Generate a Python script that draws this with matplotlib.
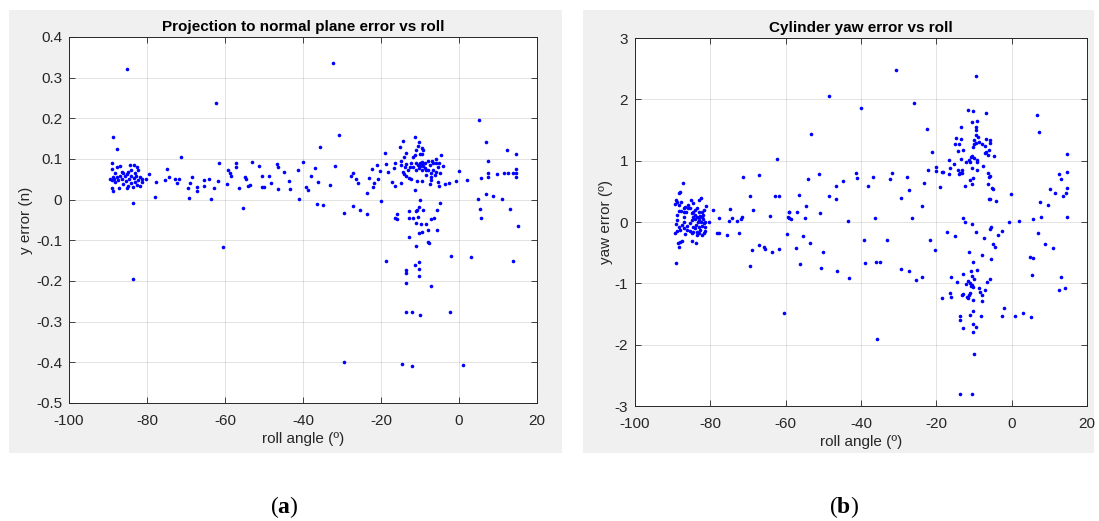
import matplotlib
matplotlib.use("Agg")
import matplotlib.pyplot as plt
from matplotlib.patches import Rectangle

plt.rcParams['font.family'] = ['Liberation Sans', 'DejaVu Sans']
plt.rcParams['axes.unicode_minus'] = False
plt.rcParams['mathtext.fontset'] = 'custom'
plt.rcParams['mathtext.rm'] = 'Liberation Serif'
plt.rcParams['mathtext.bf'] = 'Liberation Serif:bold'

# (a) projection to normal plane error vs roll
roll_a = [
    -89.1, -87.8, -88.9, -87.8, -86.8, -86.5, -88.2, -88.8, -89.5, -88.5, -87.6, -87.4, -88.2, -89.1,
    -88.9, -88.7, -87.1, -86.5, -85.7, -85.2, -84.4, -83.4, -82.5, -82.3, -84.0, -83.1, -82.7, -81.8,
    -81.4, -82.3, -83.1, -84.0, -84.8, -83.5, -81.8, -81.4, -84.6, -85.4, -86.1, -85.2, -82.5, -83.4,
    -84.2, -84.8, -86.1, -86.95, -83.5, -80.3, -79.4, -77.7, -78.0, -75.4, -74.8, -74.3, -72.9, -72.4,
    -71.7, -71.4, -69.4, -69.0, -68.4, -69.3, -67.3, -67.1, -65.4, -65.3, -64.1, -63.5, -62.9, -61.7,
    -61.6, -59.6, -59.2, -58.8, -58.5, -57.3, -57.1, -56.5,
    -85.2, -88.7, -83.5, -62.2, -60.5,
    -35.7, -53.1, -51.2, -46.6, -46.5, -44.8, -39.96, -41.3, -43.6, -43.3, -46.5, -48.3, -48.6, -50.6,
    -50.6, -50.1, -54.1, -53.5, -55.0, -54.5, -55.4, -41.0, -39.3, -38.8, -38.0, -36.8, -36.1, -36.3,
    -34.9, -31.8, -33.0, -29.6, -27.8, -27.2, -26.5, -25.9, -27.2, -25.3, -23.7, -23.6, -23.0, -22.3,
    -21.8, -22.0, -20.9, -20.7,
    -32.3, -30.7, -29.6,
    -11.4, -14.3, -10.2, -15.2, -10.4, -11.1, -9.6, -9.2, -10.1, -11.4, -11.8, -9.4, -18.9, -13.5,
    -14.2, -15.0, -16.5, -18.6, -20.3, -18.2, -16.6, -14.8, -13.9, -13.5, -12.6, -12.2, -11.8, -10.9,
    -10.5, -10.1, -9.6, -9.2, -8.8, -10.2, -11.1, -9.6, -8.8, -9.4, -10.1, -13.2, -14.3, -14.2,
    -13.7, -12.8, -12.2, -7.9, -6.8, -6.0, -4.7, -5.8, -6.6, -7.5, -7.9, -6.6, -5.8, -7.1,
    -6.2, -4.9, -5.4, -4.1, -5.1, -8.4, -8.4, -7.1, -17.1, -16.3, -14.9, -11.4, -10.7, -9.4,
    -7.5, -7.1, -5.4, -5.1, -3.7, -2.5, -0.7, 0.0, 2.1, 5.7, 7.5, 7.5, 9.7, 11.5,
    12.6, 13.9, 12.4, 6.8, 7.4, -20.1, -10.1, -4.9, -10.2, -10.7, -9.2, -10.9, -16.0, -16.3,
    -15.9, -12.8, -12.9, -11.8, -10.5, -11.1, -9.8, -8.4, -7.1, -6.5, -5.6, -7.9, -10.2, -9.5,
    -5.6, -12.8, -10.9, -7.9, -7.7, 4.9, 5.3, 5.7, 6.85, 8.7, 11.1, 13.2,
    14.6, 14.6, 14.7, 14.5, 15.0, 5.2,
    -2.1, 3.2, -18.6, -10.2, -11.2, -13.7, -13.7, -10.3, -10.3, -13.6, -7.3, -13.6, -12.0, -9.9,
    -2.4, -14.5, -12.0, 0.9, 13.9,
]
yerr_a = [
    0.091, 0.124, 0.075, 0.081, 0.083, 0.069, 0.065, 0.056, 0.052, 0.052, 0.056, 0.048, 0.044, 0.048,
    0.028, 0.022, 0.028, 0.052, 0.059, 0.062, 0.085, 0.085, 0.081, 0.073, 0.073, 0.065, 0.059, 0.056,
    0.052, 0.048, 0.044, 0.040, 0.034, 0.032, 0.034, 0.044, 0.052, 0.046, 0.038, 0.029, 0.036, 0.054,
    0.059, 0.069, 0.065, 0.059, -0.007, 0.050, 0.063, 0.044, 0.007, 0.048, 0.076, 0.056, 0.050, 0.040,
    0.052, 0.104, 0.029, 0.040, 0.056, 0.003, 0.032, 0.022, 0.048, 0.034, 0.051, 0.002, 0.029, 0.046,
    0.091, 0.038, 0.073, 0.065, 0.059, 0.081, 0.089, 0.028,
    0.321, 0.154, -0.195, 0.238, -0.116,
    0.130, 0.092, 0.083, 0.088, 0.081, 0.069, 0.093, 0.074, 0.047, 0.027, 0.026, 0.042, 0.059, 0.057,
    0.031, 0.031, 0.033, 0.035, 0.056, 0.052, -0.020, 0.002, 0.030, 0.023, 0.058, 0.077, 0.043, -0.011,
    -0.013, 0.083, 0.035, -0.034, 0.058, 0.066, 0.051, 0.040, -0.016, -0.026, 0.016, -0.036, 0.053, 0.075,
    0.040, 0.030, 0.086, 0.052,
    0.335, 0.159, -0.398,
    0.153, 0.144, 0.142, 0.130, 0.132, 0.123, 0.126, 0.122, 0.112, 0.110, 0.105, 0.112, 0.115, 0.115,
    0.104, 0.095, 0.089, 0.087, 0.070, 0.069, 0.078, 0.085, 0.081, 0.087, 0.081, 0.089, 0.081, 0.089,
    0.085, 0.091, 0.087, 0.083, 0.089, 0.077, 0.074, 0.074, 0.077, 0.093, 0.083, 0.073, 0.069, 0.063,
    0.058, 0.054, 0.050, 0.096, 0.096, 0.099, 0.111, 0.089, 0.089, 0.085, 0.073, 0.073, 0.069, 0.065,
    0.060, 0.065, 0.081, 0.083, 0.089, 0.073, 0.060, 0.056, 0.044, 0.033, 0.042, 0.025, 0.047, 0.047,
    0.038, 0.048, 0.044, 0.034, 0.038, 0.042, 0.047, 0.070, 0.048, 0.054, 0.056, 0.066, 0.062, 0.065,
    0.065, 0.065, 0.122, 0.143, 0.095, -0.003, -0.001, -0.009, -0.017, -0.025, -0.025, -0.029, -0.035, -0.046,
    -0.048, -0.029, -0.046, -0.044, -0.043, -0.058, -0.061, -0.061, -0.048, -0.046, -0.025, -0.075, -0.083, -0.079,
    -0.075, -0.093, -0.115, -0.103, -0.106, 0.002, -0.023, -0.046, 0.014, 0.010, 0.001, -0.022,
    0.112, 0.075, 0.065, 0.056, -0.065, 0.195,
    -0.138, -0.140, -0.152, -0.154, -0.161, -0.174, -0.181, -0.170, -0.188, -0.206, -0.213, -0.277, -0.276, -0.283,
    -0.276, -0.404, -0.408, -0.406, -0.150,
]

# (b) cylinder yaw error vs roll
roll_b = [
    -62.2, -71.4, -67.06, -87.3, -88.0, -88.35, -89.2, -88.9, -89.5, -87.8, -88.4, -85.2, -84.5, -82.9,
    -82.4, -86.7, -86.05, -85.35, -88.4, -87.8, -88.9, -87.1, -86.4, -83.6, -84.0, -84.5, -83.1, -82.3,
    -81.8, -82.0, -81.1, -82.3, -82.7, -83.6, -84.6, -84.9, -84.0, -83.4, -82.9, -82.5, -81.6, -80.3,
    -79.4, -88.9, -86.9, -87.6, -89.06, -88.2, -87.1, -88.0, -88.9, -89.3, -86.2, -85.5, -84.5, -84.0,
    -83.6, -83.1, -82.7, -82.3, -81.4, -81.8, -83.6, -84.9, -86.7, -88.6, -88.2, -87.6, -88.0, -84.9,
    -83.85, -89.2, -78.1, -77.7, -75.6, -77.75, -74.9, -74.3, -75.1, -73.0, -71.8, -71.6, -72.45, -69.4,
    -68.6, -64.2, -62.9, -61.7, -59.2, -59.2, -59.6, -69.0, -67.2, -65.65, -65.4, -63.5, -61.7, -69.6,
    -85.8, -87.1, -84.9, -84.0, -83.1, -82.0, -81.4, -83.75, -85.5, -86.2, -83.1, -82.3, -81.4, -84.6,
    -86.9,
    -30.6, -48.4, -40.1, -26.0, -53.2, -22.5, -21.1, -16.6, -20.0, -20.05, -18.55, -18.2, -16.7, -22.2,
    -23.15, -31.9, -32.3, -36.9, -38.1, -41.2, -41.0, -44.9, -46.7, -46.65, -48.6, -51.2, -54.1, -56.5,
    -54.6, -50.8, -57.1, -59.1, -59.3, -58.6, -55.0, -43.5, -36.2, -29.5, -27.2, -27.8, -26.5, -23.7,
    -18.9, -55.5, -57.3, -53.6, -50.1, -56.2, -50.6, -46.5, -43.3, -39.3, -38.9, -36.1, -35.0, -33.0,
    -29.3, -27.2, -25.4, -23.7, -21.7, -20.3, -17.3, -18.55, -35.8, -60.5,
    -9.36, -11.6, -10.25, -6.9, 6.7, 7.25, -10.5, -9.2, -13.4, -9.4, -9.4, -9.5, -8.9, -14.8,
    -13.4, -10.0, -8.7, -9.4, -10.1, -6.9, -5.8, -5.8, -15.1, -14.1, -8.0, -7.2, -10.3, -14.2,
    -13.0, -7.2, -6.7, -6.4, -6.0, -4.6, -10.4, -10.1, -10.7, -13.4, -12.0, -11.3, -11.1, -9.2,
    -9.1, -10.6, -9.2, -7.7, -15.2, -16.4, -14.2, -13.6, -14.0, -13.2, -13.1, -6.3, -5.8, -6.1,
    -10.3, -10.95, -10.5, -12.4, -6.4, -5.1, -4.9, -6.0, -5.7, -4.1, -0.08, 12.55, 13.2, 10.3,
    11.5, 13.7, 7.4, 9.6, -12.8, -12.3, -10.6, -5.4, -0.8, 1.95, 5.7, 7.7,
    14.7, 14.8, 14.5, 14.8, 14.8,
    -5.65, -9.4, -2.56, -15.0, -7.3, -3.6, 6.9, -4.95, -4.5, 8.75, 11.1, -11.4, -7.9, 4.95,
    5.75, -5.56, -10.2, -10.7, -9.2, -12.9, 5.4, 13.2, -16.0, -14.5, -11.5, -11.1, -12.0, -10.4,
    -10.25, -10.8, -10.0, -10.6, -6.45, -5.8, -8.8, -8.4, -7.9, -7.2, -7.8, -12.9, -13.25, -11.75,
    -11.3, -10.95, -11.5, -10.3, -16.4, -16.0, 12.5, 14.05, -2.1, -13.8, -13.8, -11.1, -10.3, -8.1,
    -2.5, 0.9, 3.1, 5.2, -12.9, -10.25, -9.45, -10.25, -9.9, -13.6, -10.4,
]
yawerr_b = [
    1.025, 0.731, 0.764, 0.633, 0.486, 0.470, 0.361, 0.334, 0.291, 0.334, 0.274, 0.361, 0.307, 0.361,
    0.388, 0.242, 0.225, 0.225, 0.187, 0.187, 0.117, 0.155, 0.171, 0.225, 0.198, 0.171, 0.155, 0.171,
    0.198, 0.117, 0.263, 0.089, 0.100, 0.089, 0.078, 0.035, 0.046, 0.008, 0.035, -0.008, -0.019, 0.008,
    0.198, 0.035, 0.002, -0.047, -0.030, -0.085, -0.101, -0.128, -0.139, -0.183, -0.128, -0.139, -0.085, -0.101,
    -0.155, -0.183, -0.128, -0.210, -0.139, -0.183, -0.210, -0.183, -0.193, -0.346, -0.400, -0.302, -0.319, -0.308,
    -0.335, -0.672, -0.183, -0.172, -0.204, 0.062, 0.204, 0.068, 0.013, 0.019, 0.057, 0.078, -0.183, 0.432,
    0.198, 0.100, 0.427, 0.427, 0.160, 0.073, -0.193, -0.455, -0.378, -0.411, -0.433, -0.487, -0.444, -0.716,
    0.280, 0.225, 0.144, 0.117, 0.078, 0.046, 0.008, -0.047, -0.019, -0.063, -0.085, -0.063, -0.085, -0.155,
    0.089,
    2.472, 2.058, 1.852, 1.944, 1.438, 1.520, 1.139, 1.003, 0.900, 0.829, 0.813, 0.813, 0.775, 0.840,
    0.633, 0.807, 0.704, 0.731, 0.595, 0.797, 0.715, 0.666, 0.595, 0.372, 0.432, 0.786, 0.699, 0.443,
    0.258, 0.149, 0.166, 0.166, 0.078, 0.057, 0.062, 0.024, 0.068, 0.399, 0.519, 0.737, 0.073, 0.269,
    0.563, -0.231, -0.417, -0.346, -0.487, -0.678, -0.748, -0.792, -0.906, -0.297, -0.661, -0.656, -0.650, -0.297,
    -0.759, -0.792, -0.950, -0.895, -0.286, -0.449, -0.166, -1.238, -1.907, -1.488,
    2.385, 1.819, 1.803, 1.776, 1.748, 1.460, 1.634, 1.640, 1.547, 1.547, 1.493, 1.422, 1.384, 1.362,
    1.357, 1.330, 1.308, 1.286, 1.275, 1.357, 1.341, 1.281, 1.270, 1.275, 1.275, 1.243, 1.221, 1.150,
    1.177, 1.123, 1.134, 1.096, 1.166, 1.079, 1.079, 1.036, 1.058, 1.025, 0.971, 1.003, 0.971, 1.003,
    0.971, 0.878, 0.851, 0.916, 0.949, 0.878, 0.840, 0.807, 0.786, 0.797, 0.851, 0.807, 0.742, 0.731,
    0.715, 0.688, 0.622, 0.579, 0.617, 0.552, 0.541, 0.372, 0.378, 0.340, 0.459, 0.786, 0.709, 0.530,
    0.470, 0.416, 0.318, 0.285, 0.062, 0.008, -0.030, -0.085, 0.002, 0.019, 0.051, 0.078,
    1.11, 0.82, 0.48, 0.55, 0.08,
    -0.117, -0.155, -0.145, -0.226, -0.253, -0.215, -0.172, -0.357, -0.400, -0.362, -0.416, -0.493, -0.542, -0.574,
    -0.585, -0.596, -0.645, -0.792, -0.787, -0.846, -0.862, -0.901, -0.901, -0.971, -0.966, -0.988, -1.015, -1.026,
    -1.064, -1.048, -0.922, -0.879, -0.977, -0.933, -1.080, -1.135, -1.189, -1.107, -1.281, -1.173, -1.189, -1.216,
    -1.189, -1.162, -1.238, -1.270, -1.162, -1.227, -1.107, -1.07, -1.396, -1.526, -1.602, -1.515, -1.450, -1.526,
    -1.537, -1.537, -1.488, -1.553, -1.733, -1.662, -1.706, -1.798, -2.152, -2.80, -2.81,
]

x_ticks = [-100, -80, -60, -40, -20, 0, 20]
y_ticks_a = [-0.5, -0.4, -0.3, -0.2, -0.1, 0, 0.1, 0.2, 0.3, 0.4]
y_labels_a = ['-0.5', '-0.4', '-0.3', '-0.2', '-0.1', '0', '0.1', '0.2', '0.3', '0.4']
y_ticks_b = [-3, -2, -1, 0, 1, 2, 3]

W, H = 1099, 521
fig = plt.figure(figsize=(W / 100, H / 100), dpi=100)

# grey matlab figure backgrounds
for x0, x1 in [(9, 562), (583, 1094)]:
    fig.patches.append(Rectangle((x0 / W, 1 - 453 / H), (x1 - x0) / W, 443 / H,
                                 transform=fig.transFigure, facecolor='#f0f0f0',
                                 edgecolor='none', zorder=-5))


def fpos(l, t, r, b):
    return [l / W, 1 - b / H, (r - l) / W, (b - t) / H]


ax1 = fig.add_axes(fpos(69, 37, 537, 403))
ax2 = fig.add_axes(fpos(635, 38, 1087, 406))

dark = '#262626'
fs = 11
for ax in (ax1, ax2):
    ax.set_zorder(2)
    ax.set_facecolor('white')
    ax.grid(True, color=dark, alpha=0.15, linewidth=0.6)
    ax.set_axisbelow(True)
    ax.tick_params(direction='in', top=True, right=True, length=4, width=0.6,
                   colors=dark, labelsize=fs, pad=5)
    ax.tick_params(axis='x', pad=8)
    for s in ax.spines.values():
        s.set_color(dark)
        s.set_linewidth(0.7)
    ax.set_xlim(-100, 20)
    ax.set_xticks(x_ticks)
    ax.set_xlabel('roll angle (º)', fontsize=fs, color=dark, labelpad=3)

ax1.plot(roll_a, yerr_a, linestyle='none', marker='o', markersize=2.6,
         markerfacecolor='#0000ff', markeredgecolor='none')
ax1.set_ylim(-0.5, 0.4)
ax1.set_yticks(y_ticks_a)
ax1.set_yticklabels(y_labels_a)
ax1.set_ylabel('y error (n)', fontsize=fs, color=dark, labelpad=2)
ax1.set_title('Projection to normal plane error vs roll', fontsize=fs,
              fontweight='bold', color='black', pad=4)

ax2.plot(roll_b, yawerr_b, linestyle='none', marker='o', markersize=2.6,
         markerfacecolor='#0000ff', markeredgecolor='none')
ax2.set_ylim(-3, 3)
ax2.set_yticks(y_ticks_b)
ax2.set_ylabel('yaw error (º)', fontsize=fs, color=dark, labelpad=1)
ax2.set_title('Cylinder yaw error vs roll', fontsize=fs,
              fontweight='bold', color='black', pad=4)

fig.text(284 / W, 1 - 507 / H, r'$(\mathbf{a})$', fontsize=17, ha='center', va='center')
fig.text(844 / W, 1 - 507 / H, r'$(\mathbf{b})$', fontsize=17, ha='center', va='center')

fig.savefig('out.png', dpi=100, facecolor='white')
